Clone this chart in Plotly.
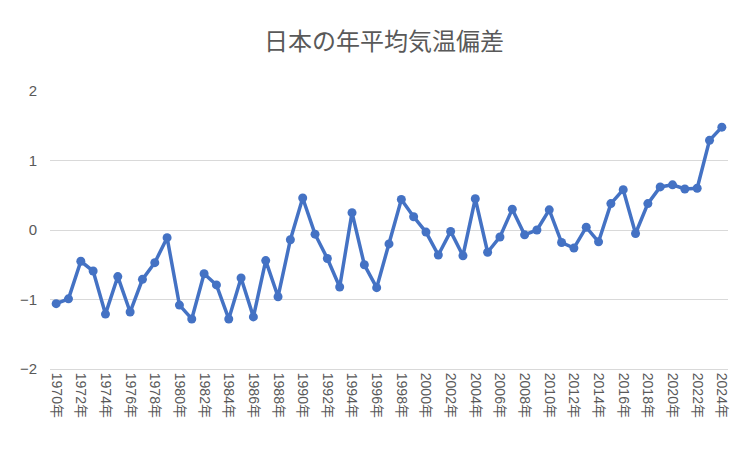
import plotly.graph_objects as go

years = list(range(1970, 2025))
anomaly = [-1.06, -0.99, -0.45, -0.59, -1.21, -0.67, -1.18, -0.71, -0.47, -0.11,
           -1.08, -1.28, -0.63, -0.79, -1.28, -0.69, -1.25, -0.44, -0.96, -0.14,
           0.46, -0.06, -0.41, -0.82, 0.25, -0.50, -0.83, -0.20, 0.44, 0.19,
           -0.03, -0.36, -0.02, -0.37, 0.45, -0.32, -0.10, 0.30, -0.07, 0.00,
           0.29, -0.18, -0.26, 0.04, -0.17, 0.38, 0.58, -0.05, 0.38, 0.62,
           0.65, 0.59, 0.60, 1.29, 1.48]
tick_years = years[::2]
tick_labels = [f"{y}年" for y in tick_years]

fig = go.Figure(go.Scatter(
    x=years, y=anomaly, mode="lines+markers",
    line=dict(color="#4472C4", width=3.5),
    marker=dict(color="#4472C4", size=9),
))
font = "Liberation Sans, Noto Sans CJK JP"
fig.update_layout(
    width=752, height=452, paper_bgcolor="white", plot_bgcolor="white",
    margin=dict(l=38, r=32, t=83, b=91),
    title=dict(text="日本の年平均気温偏差", x=0.5, xanchor="center", y=0.945,
               font=dict(family=font, size=24, color="#595959")),
    showlegend=False,
    font=dict(family=font, color="#595959", size=14),
)
fig.update_xaxes(range=[1969.5, 2024.5], tickvals=tick_years, ticktext=tick_labels,
                 tickangle=90, showgrid=False, showline=True, linecolor="#d9d9d9",
                 tickfont=dict(size=14, color="#595959"), zeroline=False)
fig.update_yaxes(range=[-2, 2], dtick=1, showgrid=True, gridcolor="#d9d9d9",
                 zeroline=False, tickfont=dict(size=15, color="#595959"), ticklabelstandoff=12)
fig.write_html("out.html")
